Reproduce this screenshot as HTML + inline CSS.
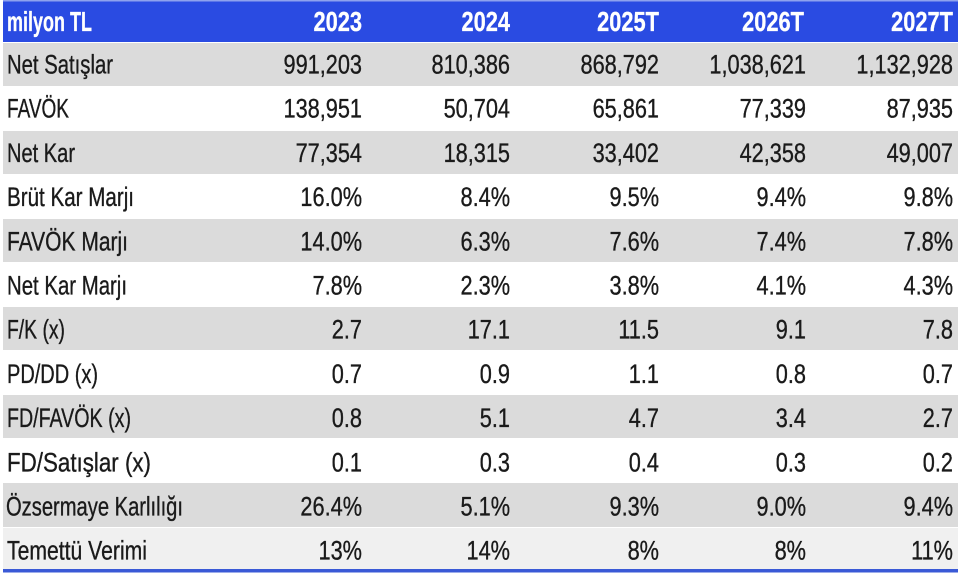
<!DOCTYPE html>
<html>
<head>
<meta charset="utf-8">
<style>
html,body{margin:0;padding:0;background:#ffffff;}
svg{display:block;}
text{font-family:"Liberation Sans",sans-serif;}
.h{font-weight:bold;fill:#ffffff;font-size:28px;stroke:#ffffff;stroke-width:0.3px;}
.l{fill:#1a1a1a;font-size:26.5px;stroke:#1a1a1a;stroke-width:0.35px;}
.n{fill:#1a1a1a;font-size:26.5px;stroke:#1a1a1a;stroke-width:0.35px;}
</style>
</head>
<body>
<svg width="960" height="576" viewBox="0 0 960 576" xmlns="http://www.w3.org/2000/svg">
  <rect x="0" y="0" width="960" height="576" fill="#ffffff"/>
  <!-- header -->
  <rect x="3" y="1" width="955" height="41" fill="#2a4be2"/>
  <rect x="3" y="0" width="955" height="1.5" fill="#8fa2ee"/>
  <!-- rows -->
  <rect x="3" y="43" width="955" height="43" fill="#dbdbdb"/>
  <rect x="3" y="131" width="955" height="43" fill="#dbdbdb"/>
  <rect x="3" y="219" width="955" height="43" fill="#dbdbdb"/>
  <rect x="3" y="307" width="955" height="43" fill="#dbdbdb"/>
  <rect x="3" y="395" width="955" height="43" fill="#dbdbdb"/>
  <rect x="3" y="483" width="955" height="44" fill="#dbdbdb"/>
  <rect x="3" y="528" width="955" height="41" fill="#f0f0f0"/>
  <!-- bottom line -->
  <rect x="3" y="569" width="955" height="3.5" fill="#3a59d6"/>

  <!-- header text -->
  <text class="h" x="7" y="31" textLength="85" lengthAdjust="spacingAndGlyphs">milyon TL</text>
  <text class="h" text-anchor="end" transform="translate(362 31) scale(0.78 1)">2023</text>
  <text class="h" text-anchor="end" transform="translate(510 31) scale(0.78 1)">2024</text>
  <text class="h" text-anchor="end" transform="translate(659 31) scale(0.78 1)">2025T</text>
  <text class="h" text-anchor="end" transform="translate(804 31) scale(0.78 1)">2026T</text>
  <text class="h" text-anchor="end" transform="translate(953 31) scale(0.78 1)">2027T</text>

  <!-- labels -->
  <text class="l" x="7" y="73.5" textLength="106" lengthAdjust="spacingAndGlyphs">Net Satışlar</text>
  <text class="l" x="7" y="117.7" textLength="62" lengthAdjust="spacingAndGlyphs">FAVÖK</text>
  <text class="l" x="7" y="161.9" textLength="68" lengthAdjust="spacingAndGlyphs">Net Kar</text>
  <text class="l" x="7" y="206.1" textLength="127" lengthAdjust="spacingAndGlyphs">Brüt Kar Marjı</text>
  <text class="l" x="7" y="250.3" textLength="121" lengthAdjust="spacingAndGlyphs">FAVÖK Marjı</text>
  <text class="l" x="7" y="294.5" textLength="120" lengthAdjust="spacingAndGlyphs">Net Kar Marjı</text>
  <text class="l" x="7" y="338.7" textLength="58" lengthAdjust="spacingAndGlyphs">F/K (x)</text>
  <text class="l" x="7" y="382.9" textLength="91" lengthAdjust="spacingAndGlyphs">PD/DD (x)</text>
  <text class="l" x="7" y="427.1" textLength="124" lengthAdjust="spacingAndGlyphs">FD/FAVÖK (x)</text>
  <text class="l" x="7" y="471.3" textLength="144" lengthAdjust="spacingAndGlyphs">FD/Satışlar (x)</text>
  <text class="l" x="6" y="515.5" textLength="177" lengthAdjust="spacingAndGlyphs">Özsermaye Karlılığı</text>
  <text class="l" x="7" y="559.7" textLength="140" lengthAdjust="spacingAndGlyphs">Temettü Verimi</text>

  <g text-anchor="end">
    <text class="n" transform="translate(362 73.5) scale(0.82 1)">991,203</text>
    <text class="n" transform="translate(510 73.5) scale(0.82 1)">810,386</text>
    <text class="n" transform="translate(659 73.5) scale(0.82 1)">868,792</text>
    <text class="n" transform="translate(806 73.5) scale(0.82 1)">1,038,621</text>
    <text class="n" transform="translate(953 73.5) scale(0.82 1)">1,132,928</text>

    <text class="n" transform="translate(362 117.7) scale(0.82 1)">138,951</text>
    <text class="n" transform="translate(510 117.7) scale(0.82 1)">50,704</text>
    <text class="n" transform="translate(659 117.7) scale(0.82 1)">65,861</text>
    <text class="n" transform="translate(806 117.7) scale(0.82 1)">77,339</text>
    <text class="n" transform="translate(953 117.7) scale(0.82 1)">87,935</text>

    <text class="n" transform="translate(362 161.9) scale(0.82 1)">77,354</text>
    <text class="n" transform="translate(510 161.9) scale(0.82 1)">18,315</text>
    <text class="n" transform="translate(659 161.9) scale(0.82 1)">33,402</text>
    <text class="n" transform="translate(806 161.9) scale(0.82 1)">42,358</text>
    <text class="n" transform="translate(953 161.9) scale(0.82 1)">49,007</text>

    <text class="n" transform="translate(362 206.1) scale(0.82 1)">16.0%</text>
    <text class="n" transform="translate(510 206.1) scale(0.82 1)">8.4%</text>
    <text class="n" transform="translate(659 206.1) scale(0.82 1)">9.5%</text>
    <text class="n" transform="translate(806 206.1) scale(0.82 1)">9.4%</text>
    <text class="n" transform="translate(953 206.1) scale(0.82 1)">9.8%</text>

    <text class="n" transform="translate(362 250.3) scale(0.82 1)">14.0%</text>
    <text class="n" transform="translate(510 250.3) scale(0.82 1)">6.3%</text>
    <text class="n" transform="translate(659 250.3) scale(0.82 1)">7.6%</text>
    <text class="n" transform="translate(806 250.3) scale(0.82 1)">7.4%</text>
    <text class="n" transform="translate(953 250.3) scale(0.82 1)">7.8%</text>

    <text class="n" transform="translate(362 294.5) scale(0.82 1)">7.8%</text>
    <text class="n" transform="translate(510 294.5) scale(0.82 1)">2.3%</text>
    <text class="n" transform="translate(659 294.5) scale(0.82 1)">3.8%</text>
    <text class="n" transform="translate(806 294.5) scale(0.82 1)">4.1%</text>
    <text class="n" transform="translate(953 294.5) scale(0.82 1)">4.3%</text>

    <text class="n" transform="translate(362 338.7) scale(0.82 1)">2.7</text>
    <text class="n" transform="translate(510 338.7) scale(0.82 1)">17.1</text>
    <text class="n" transform="translate(659 338.7) scale(0.82 1)">11.5</text>
    <text class="n" transform="translate(806 338.7) scale(0.82 1)">9.1</text>
    <text class="n" transform="translate(953 338.7) scale(0.82 1)">7.8</text>

    <text class="n" transform="translate(362 382.9) scale(0.82 1)">0.7</text>
    <text class="n" transform="translate(510 382.9) scale(0.82 1)">0.9</text>
    <text class="n" transform="translate(659 382.9) scale(0.82 1)">1.1</text>
    <text class="n" transform="translate(806 382.9) scale(0.82 1)">0.8</text>
    <text class="n" transform="translate(953 382.9) scale(0.82 1)">0.7</text>

    <text class="n" transform="translate(362 427.1) scale(0.82 1)">0.8</text>
    <text class="n" transform="translate(510 427.1) scale(0.82 1)">5.1</text>
    <text class="n" transform="translate(659 427.1) scale(0.82 1)">4.7</text>
    <text class="n" transform="translate(806 427.1) scale(0.82 1)">3.4</text>
    <text class="n" transform="translate(953 427.1) scale(0.82 1)">2.7</text>

    <text class="n" transform="translate(362 471.3) scale(0.82 1)">0.1</text>
    <text class="n" transform="translate(510 471.3) scale(0.82 1)">0.3</text>
    <text class="n" transform="translate(659 471.3) scale(0.82 1)">0.4</text>
    <text class="n" transform="translate(806 471.3) scale(0.82 1)">0.3</text>
    <text class="n" transform="translate(953 471.3) scale(0.82 1)">0.2</text>

    <text class="n" transform="translate(362 515.5) scale(0.82 1)">26.4%</text>
    <text class="n" transform="translate(510 515.5) scale(0.82 1)">5.1%</text>
    <text class="n" transform="translate(659 515.5) scale(0.82 1)">9.3%</text>
    <text class="n" transform="translate(806 515.5) scale(0.82 1)">9.0%</text>
    <text class="n" transform="translate(953 515.5) scale(0.82 1)">9.4%</text>

    <text class="n" transform="translate(362 559.7) scale(0.82 1)">13%</text>
    <text class="n" transform="translate(510 559.7) scale(0.82 1)">14%</text>
    <text class="n" transform="translate(659 559.7) scale(0.82 1)">8%</text>
    <text class="n" transform="translate(806 559.7) scale(0.82 1)">8%</text>
    <text class="n" transform="translate(953 559.7) scale(0.82 1)">11%</text>
  </g>
</svg>
</body>
</html>
